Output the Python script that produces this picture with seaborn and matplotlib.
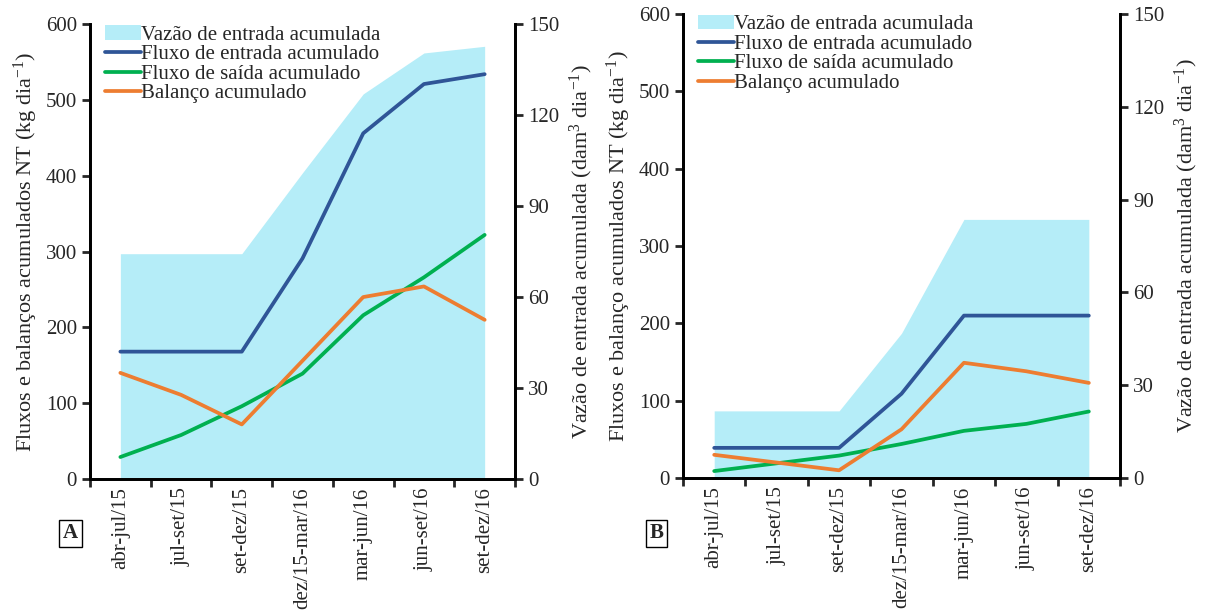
import numpy as np
import pandas as pd
import matplotlib
matplotlib.use("Agg")
import matplotlib.pyplot as plt
import seaborn as sns
from matplotlib.patches import Patch
from matplotlib.lines import Line2D

sns.set_style("white")
plt.rcParams["font.family"] = ["Liberation Serif", "DejaVu Serif"]
plt.rcParams["mathtext.fontset"] = "custom"
plt.rcParams["mathtext.rm"] = "Liberation Serif"
plt.rcParams["mathtext.it"] = "Liberation Serif:italic"

FS = 15
LAB_FS = 16

periodos = ["abr-jul/15", "jul-set/15", "set-dez/15", "dez/15-mar/16",
            "mar-jun/16", "jun-set/16", "set-dez/16"]

# painel A
a_vazao = [74.3, 74.3, 74.3, 101.0, 127.0, 140.5, 142.7]
a_entrada = [168, 168, 168, 291, 456, 521, 534]
a_saida = [29, 58, 96, 139, 216, 266, 322]
a_balanco = [140, 111, 72, 156, 240, 254, 210]

# painel B
b_vazao = [21.7, 21.7, 21.7, 46.8, 83.6, 83.6, 83.6]
b_entrada = [39, 39, 39, 109, 210, 210, 210]
b_saida = [9, 19, 29, 44, 61, 70, 86]
b_balanco = [30, 20, 10, 63, 149, 138, 123]

C_AREA = "#b5edf8"
C_ENT = "#2f5597"
C_SAI = "#00b050"
C_BAL = "#ed7d31"


def _panel(fig, rect, vazao, entrada, saida, balanco, ylabel, letter, letter_x):
    ax = fig.add_axes(rect)
    ax2 = ax.twinx()
    x = np.arange(len(periodos))
    df = pd.DataFrame({"x": x, "entrada": entrada, "saida": saida, "balanco": balanco})

    # area on the secondary axis, behind the primary axis lines
    ax2.fill_between(x, vazao, color=C_AREA, lw=0, zorder=0)
    ax.set_zorder(ax2.get_zorder() + 1)
    ax.patch.set_visible(False)

    sns.lineplot(data=df, x="x", y="entrada", ax=ax, color=C_ENT, lw=2.7)
    sns.lineplot(data=df, x="x", y="saida", ax=ax, color=C_SAI, lw=2.7)
    sns.lineplot(data=df, x="x", y="balanco", ax=ax, color=C_BAL, lw=2.7)

    ax.set_xlim(-0.5, len(periodos) - 0.5)
    ax.set_ylim(0, 600)
    ax2.set_ylim(0, 150)
    ax.set_yticks(range(0, 601, 100))
    ax2.set_yticks(range(0, 151, 30))

    # category axis: ticks on boundaries, labels at centres
    ax.set_xticks(np.arange(-0.5, len(periodos)), labels=[])
    ax.set_xticks(x, labels=periodos, minor=True, rotation=90)
    ax.tick_params(axis="x", which="major", direction="out", length=6, width=2, bottom=True)
    ax.tick_params(axis="x", which="minor", length=0, labelsize=FS, pad=6)
    ax.tick_params(axis="y", direction="out", length=6, width=2, left=True, labelsize=FS)
    ax2.tick_params(axis="y", direction="out", length=6, width=2, right=True, labelsize=FS)

    ax.set_xlabel("")
    ax.set_ylabel(ylabel, fontsize=LAB_FS, labelpad=4)
    ax2.set_ylabel(r"Vazão de entrada acumulada (dam$^{3}$ dia$^{-1}$)", fontsize=LAB_FS, labelpad=6)

    for a in (ax, ax2):
        a.spines["top"].set_visible(False)
        for s in ("left", "right", "bottom"):
            a.spines[s].set_linewidth(2)
            a.spines[s].set_color("black")

    handles = [Patch(facecolor=C_AREA, edgecolor="none"),
               Line2D([], [], color=C_ENT, lw=2.7),
               Line2D([], [], color=C_SAI, lw=2.7),
               Line2D([], [], color=C_BAL, lw=2.7)]
    labels = ["Vazão de entrada acumulada", "Fluxo de entrada acumulado",
              "Fluxo de saída acumulado", "Balanço acumulado"]
    ax.legend(handles, labels, loc="upper left", bbox_to_anchor=(0.0, 1.03),
              frameon=False, fontsize=FS, handlelength=1.75, handletextpad=0.0,
              labelspacing=0.0, borderaxespad=0.3)

    fig.text(letter_x, 0.13, letter, fontsize=15, fontweight="bold",
             ha="center", va="center",
             bbox=dict(facecolor="white", edgecolor="black", lw=1, pad=2.5))
    return ax, ax2


fig = plt.figure(figsize=(12.05, 6.13), dpi=100)
_panel(fig, [0.0747, 0.2186, 0.3527, 0.742], a_vazao, a_entrada, a_saida, a_balanco,
       r"Fluxos e balanços acumulados NT (kg dia$^{-1}$)", "A", 0.0585)
_panel(fig, [0.5668, 0.2202, 0.3627, 0.757], b_vazao, b_entrada, b_saida, b_balanco,
       r"Fluxos e balanço acumulados NT (kg dia$^{-1}$)", "B", 0.545)

fig.savefig("out.png", dpi=100)
